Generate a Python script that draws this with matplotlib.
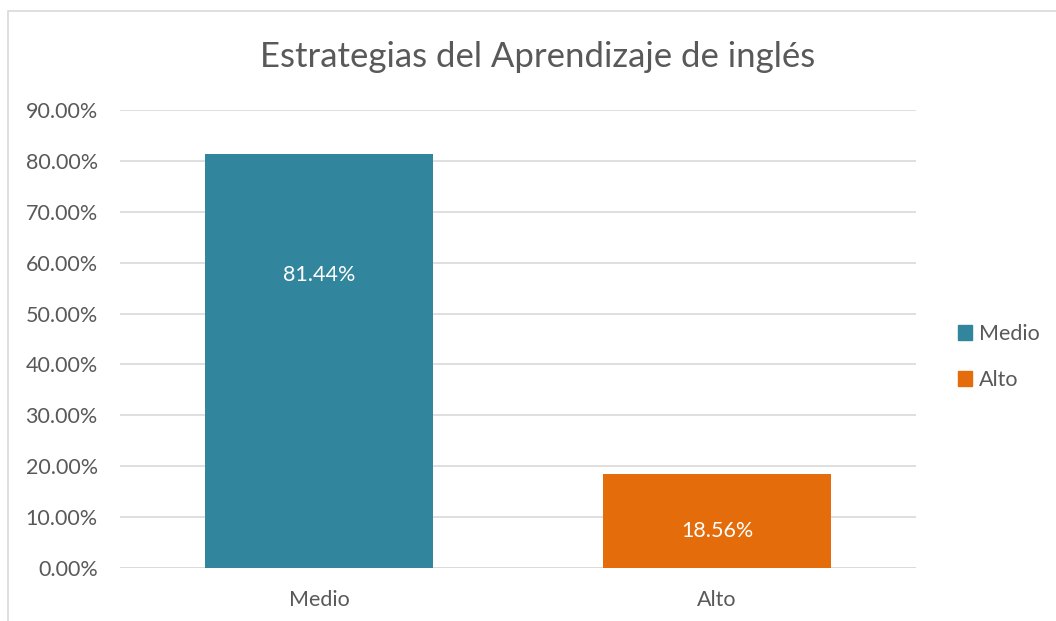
import matplotlib.pyplot as plt
from matplotlib.patches import Rectangle, Patch
import numpy as np

categories = ["Medio", "Alto"]
values = [0.8144, 0.1856]
labels = ["81.44%", "18.56%"]
label_y = [0.575, 0.073]
colors = ["#31859C", "#E46C0A"]
yticks = np.arange(0, 0.91, 0.1)

txt = "#595959"
plt.rcParams["font.family"] = ["Lato", "DejaVu Sans"]

fig = plt.figure(figsize=(10.56, 6.21), dpi=100)
fig.patches.append(Rectangle((8 / 1056, -0.1), 1.2, 1 - 11 / 621 + 0.1,
                             transform=fig.transFigure, fill=False,
                             edgecolor="#D9D9D9", lw=1.2))

ax = fig.add_axes([120 / 1056, 1 - 568 / 621, 796 / 1056, 458 / 621])
x = np.arange(len(categories))
ax.bar(x, values, width=0.573, color=colors, zorder=3)
for xi, ly, lab in zip(x, label_y, labels):
    ax.text(xi, ly, lab, ha="center", va="center", color="white", fontsize=15.5)

ax.set_xlim(-0.5, 1.5)
ax.set_ylim(0, 0.9)
ax.set_yticks(yticks)
ax.set_yticklabels(["%.2f%%" % (v * 100) for v in yticks])
ax.set_xticks(x)
ax.set_xticklabels(categories)
ax.tick_params(length=0, labelsize=15.5, colors=txt)
ax.tick_params(axis="y", pad=16)
ax.tick_params(axis="x", pad=16)
ax.grid(axis="y", color="#D9D9D9", lw=1.2, zorder=0)
for s in ax.spines.values():
    s.set_visible(False)
ax.axhline(0, color="#D9D9D9", lw=1.2, zorder=2)

fig.text(538 / 1056, 1 - 57 / 621, "Estrategias del Aprendizaje de inglés",
         ha="center", va="center", fontsize=25, color=txt)

handles = [Patch(color=c) for c in colors]
fig.legend(handles, categories, loc="center left",
           bbox_to_anchor=(939 / 1056, 1 - 357 / 621), frameon=False,
           fontsize=15.5, labelcolor=txt, handlelength=0.65, handleheight=0.65,
           handletextpad=0.3, labelspacing=1.2)

fig.savefig("out.png", dpi=100)
